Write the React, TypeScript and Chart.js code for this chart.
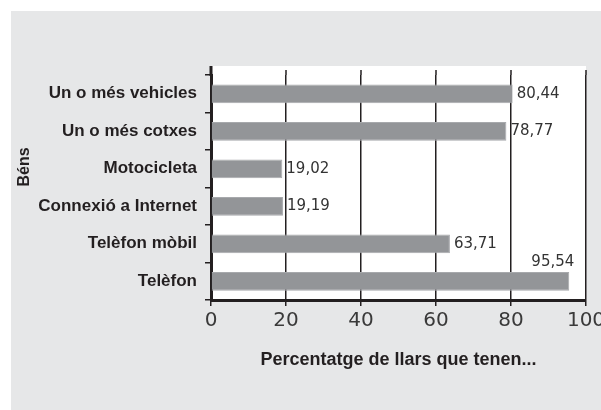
import React, { useEffect, useRef } from "react";
import { Chart, registerables } from "chart.js";

Chart.register(...registerables);

const categories = [
  "Un o més vehicles",
  "Un o més cotxes",
  "Motocicleta",
  "Connexió a Internet",
  "Telèfon mòbil",
  "Telèfon",
];
const values = [80.44, 78.77, 19.02, 19.19, 63.71, 95.54];
const xTicks = [0, 20, 40, 60, 80, 100];
const xTitle = "Percentatge de llars que tenen...";
const yTitle = "Béns";

const fmt = (v: number) => v.toFixed(2).replace(".", ",");

const INK = "#231f20";

const decorPlugin = {
  id: "decor",
  beforeDraw(chart: any) {
    const { ctx, chartArea, width, height } = chart;
    ctx.save();
    ctx.fillStyle = "#ffffff";
    ctx.fillRect(0, 0, width, height);
    ctx.fillStyle = "#e6e7e8";
    ctx.fillRect(11, 11, width - 11, height - 11);
    ctx.fillStyle = "#ffffff";
    ctx.fillRect(
      chartArea.left,
      chartArea.top - 9,
      chartArea.right - chartArea.left,
      chartArea.bottom - chartArea.top + 9
    );
    ctx.restore();
  },
  afterDraw(chart: any) {
    const { ctx, chartArea } = chart;
    const xs = chart.scales.x;
    ctx.save();
    ctx.strokeStyle = INK;
    ctx.lineWidth = 1.5;
    xs.ticks.forEach((t: any) => {
      const px = xs.getPixelForValue(t.value);
      ctx.beginPath();
      ctx.moveTo(px, chartArea.top - 5);
      ctx.lineTo(px, chartArea.top);
      ctx.stroke();
    });
    ctx.lineWidth = 3;
    ctx.beginPath();
    ctx.moveTo(chartArea.left, chartArea.top - 9);
    ctx.lineTo(chartArea.left, chartArea.top + 1);
    ctx.stroke();
    // y axis title
    ctx.translate(25, 167);
    ctx.rotate(-Math.PI / 2);
    ctx.fillStyle = INK;
    ctx.font = "bold 16px 'Liberation Sans', Arial, sans-serif";
    ctx.textAlign = "center";
    ctx.textBaseline = "middle";
    ctx.fillText(yTitle, 0, 0);
    ctx.restore();
  },
  afterDatasetsDraw(chart: any) {
    const { ctx } = chart;
    const meta = chart.getDatasetMeta(0);
    ctx.save();
    ctx.fillStyle = "#333333";
    ctx.font = "15px 'DejaVu Sans', sans-serif";
    meta.data.forEach((el: any, i: number) => {
      const v = values[i];
      const text = fmt(v);
      if (v > 90) {
        ctx.textAlign = "right";
        ctx.textBaseline = "bottom";
        ctx.fillText(text, el.x + 5, el.y - el.height / 2 - 2);
      } else {
        ctx.textAlign = "left";
        ctx.textBaseline = "middle";
        ctx.fillText(text, el.x + 4, el.y);
      }
    });
    ctx.restore();
  },
};

export default function App() {
  const ref = useRef<HTMLCanvasElement | null>(null);
  useEffect(() => {
    if (!ref.current) return;
    const chart = new Chart(ref.current, {
      type: "bar",
      data: {
        labels: categories,
        datasets: [
          {
            data: values,
            backgroundColor: "#939598",
            borderColor: "#a7a9ac",
            borderWidth: 1,
            borderSkipped: "start",
            categoryPercentage: 1,
            barPercentage: 0.5,
          },
        ],
      },
      options: {
        indexAxis: "y",
        animation: false,
        responsive: false,
        maintainAspectRatio: false,
        layout: { padding: { left: 0, top: 75, right: 39, bottom: 0 } },
        plugins: {
          legend: { display: false },
          tooltip: { enabled: false },
        },
        scales: {
          x: {
            type: "linear",
            min: 0,
            max: 100,
            afterBuildTicks: (scale: any) => {
              scale.ticks = xTicks.map((v) => ({ value: v }));
            },
            afterFit: (scale: any) => {
              scale.height = 110;
            },
            grid: {
              color: INK,
              lineWidth: 1.5,
              tickLength: 6,
              drawOnChartArea: true,
            },
            border: { color: INK, width: 3 },
            ticks: {
              color: "#3a3a3a",
              font: { family: "'DejaVu Sans', sans-serif", size: 20 },
              padding: 3,
              maxRotation: 0,
            },
            title: {
              display: true,
              text: xTitle,
              color: INK,
              font: { family: "'Liberation Sans', Arial, sans-serif", size: 18, weight: "bold" },
              padding: { top: 0, bottom: 39 },
            },
          },
          y: {
            type: "category",
            offset: true,
            afterFit: (scale: any) => {
              scale.width = 211;
            },
            grid: {
              offset: true,
              drawOnChartArea: false,
              color: INK,
              lineWidth: 1.5,
              tickLength: 6,
            },
            border: { color: INK, width: 3 },
            ticks: {
              color: INK,
              font: { family: "'Liberation Sans', Arial, sans-serif", size: 17, weight: "bold" },
              padding: 8,
            },
          },
        },
      },
      plugins: [decorPlugin],
    } as any);
    return () => chart.destroy();
  }, []);
  return (
    <div
      style={{
        position: "absolute",
        left: 0,
        top: 0,
        width: 601,
        height: 410,
        overflow: "hidden",
      }}
    >
      <canvas ref={ref} width={625} height={410} style={{ display: "block" }} />
    </div>
  );
}
